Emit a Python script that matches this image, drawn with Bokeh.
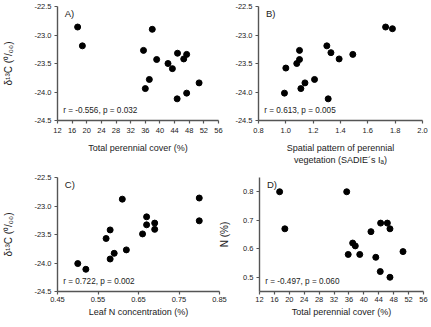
from bokeh.plotting import figure
from bokeh.models import Range1d, FixedTicker, PrintfTickFormatter, Label
from bokeh.layouts import column, row
from bokeh.embed import file_html
from bokeh.resources import INLINE

# ---- data ----
cover_A = [17.5, 18.8, 37.9, 35.5, 39.1, 44.8, 47.3, 46.5, 42.2, 43.4, 37.1, 36.0, 50.7, 47.3, 44.7]
d13c_A = [-22.86, -23.19, -22.90, -23.27, -23.43, -23.32, -23.34, -23.42, -23.50, -23.59, -23.78, -23.94, -23.84, -24.02, -24.12]

sadie_B = [1.73, 1.78, 1.30, 1.33, 1.49, 1.10, 1.10, 1.08, 1.39, 1.00, 1.21, 1.14, 1.11, 0.99, 1.31]
d13c_B = [-22.86, -22.89, -23.19, -23.31, -23.34, -23.27, -23.43, -23.50, -23.42, -23.58, -23.78, -23.84, -23.94, -24.02, -24.12]

leafN_C = [0.80, 0.80, 0.61, 0.67, 0.67, 0.69, 0.69, 0.66, 0.58, 0.57, 0.62, 0.59, 0.58, 0.50, 0.52]
d13c_C = [-22.86, -23.26, -22.88, -23.19, -23.33, -23.30, -23.41, -23.49, -23.42, -23.57, -23.77, -23.83, -23.93, -24.01, -24.11]

cover_D = [17.4, 18.8, 35.4, 41.9, 44.5, 46.3, 47.0, 37.0, 37.7, 35.8, 38.9, 43.2, 50.5, 44.4, 47.0]
n_D = [0.80, 0.67, 0.80, 0.66, 0.69, 0.69, 0.67, 0.62, 0.61, 0.58, 0.58, 0.57, 0.59, 0.52, 0.50]

cover_ticks = [12, 16, 20, 24, 28, 32, 36, 40, 44, 48, 52, 56]
sadie_ticks = [0.8, 1.0, 1.2, 1.4, 1.6, 1.8, 2.0]
leafN_ticks = [0.45, 0.55, 0.65, 0.75, 0.85]
d13c_ticks = [-24.5, -24.0, -23.5, -23.0, -22.5]
n_ticks = [0.5, 0.6, 0.7, 0.8]

panel_letters = ["A)", "B)", "C)", "D)"]
stats = ["r = -0.556, p = 0.032", "r = 0.613, p = 0.005",
         "r = 0.722, p = 0.002", "r = -0.497, p = 0.060"]

d13c_label = "\u03b4\u00b9\u00b3C (\u2070/\u2080\u2080)"

FONT = "Liberation Sans"
AX = "#555555"
TXT = "#222222"


def style_axis(ax, ticks, fmt, tick_standoff, label_standoff, label_size="9px"):
    ax.ticker = FixedTicker(ticks=ticks, minor_ticks=[])
    ax.formatter = PrintfTickFormatter(format=fmt)
    ax.axis_line_color = AX
    ax.axis_line_width = 1.4
    ax.major_tick_line_color = AX
    ax.major_tick_line_width = 1.2
    ax.major_tick_out = 3
    ax.major_tick_in = 0
    ax.minor_tick_line_color = None
    ax.major_label_text_font = FONT
    ax.major_label_text_font_size = "7.5px"
    ax.major_label_text_color = TXT
    ax.major_label_standoff = tick_standoff
    ax.axis_label_text_font = FONT
    ax.axis_label_text_font_size = label_size
    ax.axis_label_text_font_style = "normal"
    ax.axis_label_text_color = TXT
    ax.axis_label_standoff = label_standoff


def make_panel(xs, ys, xr, yr, xticks, xfmt, yticks, yfmt, xlabel, ylabel,
               width, height, left, right, top, bottom, letter, stat,
               ystandoff, xstand):
    p = figure(width=width, height=height, x_range=Range1d(*xr), y_range=Range1d(*yr),
               output_backend="svg", toolbar_location=None,
               min_border_left=left, min_border_right=right,
               min_border_top=top, min_border_bottom=bottom)
    p.grid.visible = False
    p.outline_line_color = None
    p.background_fill_color = None
    p.border_fill_color = None
    style_axis(p.xaxis[0], xticks, xfmt, xstand[0], xstand[1])
    style_axis(p.yaxis[0], yticks, yfmt, 3, ystandoff, "10px")
    p.xaxis[0].axis_label = xlabel
    if ylabel:
        p.yaxis[0].axis_label = ylabel
    p.scatter(xs, ys, size=6, color="black", line_color="black")
    xspan = xr[1] - xr[0]
    yspan = yr[1] - yr[0]
    p.add_layout(Label(x=xr[0] + xspan * 0.045, y=yr[1] - yspan * 0.01, text=letter,
                       text_font=FONT, text_font_size="9.5px", text_color=TXT,
                       text_baseline="top", text_align="left"))
    p.add_layout(Label(x=xr[0] + xspan * 0.035, y=yr[0] + yspan * 0.085, text=stat,
                       text_font=FONT, text_font_size="8.2px", text_color=TXT,
                       text_baseline="middle", text_align="left"))
    return p


pA = make_panel(cover_A, d13c_A, (12, 56), (-24.5, -22.5), cover_ticks, "%d", d13c_ticks, "%.1f",
                "Total perennial cover (%)", d13c_label,
                230, 170, 54, 12, 6, 50, panel_letters[0], stats[0], 17, (4, 7))
pA.margin = (0, -14, 0, 0)
pB = make_panel(sadie_B, d13c_B, (0.8, 2.0), (-24.5, -22.5), sadie_ticks, "%.1f", d13c_ticks, "%.1f",
                "Spatial pattern of perennial\nvegetation (SADIE\u00b4s I\u2090)", None,
                215, 170, 42, 9, 6, 50, panel_letters[1], stats[1], 17, (4, 7))
pB.margin = (0, 0, 0, 0)
pC = make_panel(leafN_C, d13c_C, (0.45, 0.85), (-24.5, -22.5), leafN_ticks, "%.2f", d13c_ticks, "%.1f",
                "Leaf N concentration (%)", d13c_label,
                235, 157, 54, 16, 7, 36, panel_letters[2], stats[2], 17, (2, 2))
pC.margin = (0, -19, 0, 0)
pD = make_panel(cover_D, n_D, (12, 56), (0.45, 0.85), cover_ticks, "%d", n_ticks, "%.1f",
                "Total perennial cover (%)", "N (%)",
                215, 157, 42, 8, 7, 36, panel_letters[3], stats[3], 10, (2, 2))
pD.margin = (0, 0, 0, 0)

layout = column(row(pA, pB), row(pC, pD))
open("out.html", "w").write(file_html(layout, INLINE))
